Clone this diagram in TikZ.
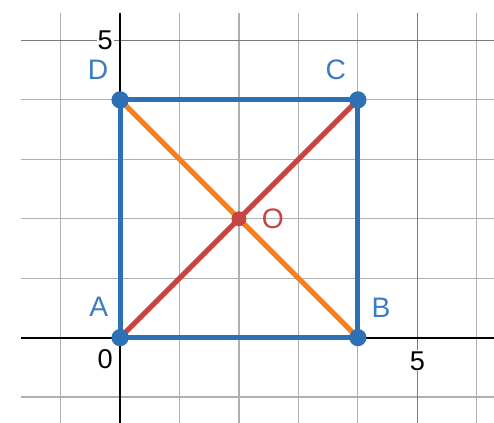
\documentclass[tikz,border=0pt]{standalone}
\usepackage{fontspec}
\setmainfont{Liberation Sans}
\usepackage{tikz}
\usetikzlibrary{positioning, calc}
\definecolor{dblue}{HTML}{2D70B3}
\definecolor{dlabel}{HTML}{3C7DC2}
\definecolor{dred}{HTML}{C74440}
\definecolor{dorange}{HTML}{FA7E19}
\definecolor{dgrid}{HTML}{B0B0B0}
\definecolor{dmajor}{HTML}{7A7A7A}

\begin{document}
\begin{tikzpicture}[x=1cm, y=1cm,
    gridline/.style={dgrid, line width=0.6pt},
    majorline/.style={dmajor, line width=0.7pt},
    axisline/.style={black, line width=1pt},
    side/.style={dblue, line width=2.4pt},
    ptdot/.style={circle, fill=dblue, inner sep=0pt, minimum size=0.29cm},
    ptlabel/.style={font=\fontsize{13.5}{15}\selectfont, dlabel},
    ticklabel/.style={font=\fontsize{13}{15}\selectfont, fill=white, inner sep=0.5pt}]
  \useasboundingbox (-2.02,-1.43) rectangle (6.29,5.68);

  % Grid
  \foreach \c in {-1,1,2,3,4,6}{
    \draw[gridline] (\c,-1.43) -- (\c,5.46);
  }
  \foreach \r in {-1,1,2,3,4}{
    \draw[gridline] (-1.66,\r) -- (6.29,\r);
  }
  \draw[majorline] (5,-1.43) -- (5,5.46);
  \draw[majorline] (-1.66,5) -- (6.29,5);

  % Axes
  \draw[axisline] (-1.66,0) -- (6.29,0);
  \draw[axisline] (0,-1.43) -- (0,5.46);
  \node[ticklabel] (ylab) at (-0.25,5.0) {5};
  \node[ticklabel] (zlab) at (-0.25,-0.37) {0};
  \node[ticklabel] (xlab) at (5.0,-0.39) {5};

  % Square ABCD
  \coordinate (A) at (0,0);
  \coordinate (B) at (4,0);
  \coordinate (C) at (4,4);
  \coordinate (D) at (0,4);
  \coordinate (O) at (2,2);
  \draw[side] (A) -- (B) -- (C) -- (D) -- cycle;

  % Diagonals
  \draw[dred, line width=2.4pt] (A) -- (C);
  \draw[dorange, line width=2.4pt] (B) -- (D);

  % Points
  \foreach \p in {A,B,C,D}{
    \node[ptdot] at (\p) {};
  }
  \node[ptdot, fill=dred, minimum size=0.25cm] (Odot) at (O) {};
  \node[ptlabel] (Alab) at (-0.36,0.52) {A};
  \node[ptlabel] (Blab) at (4.39,0.51) {B};
  \node[ptlabel] (Clab) at (3.63,4.5) {C};
  \node[ptlabel] (Dlab) at (-0.37,4.5) {D};
  \node[ptlabel, dred] (Olab) at (2.57,2.0) {O};
\end{tikzpicture}
\end{document}
